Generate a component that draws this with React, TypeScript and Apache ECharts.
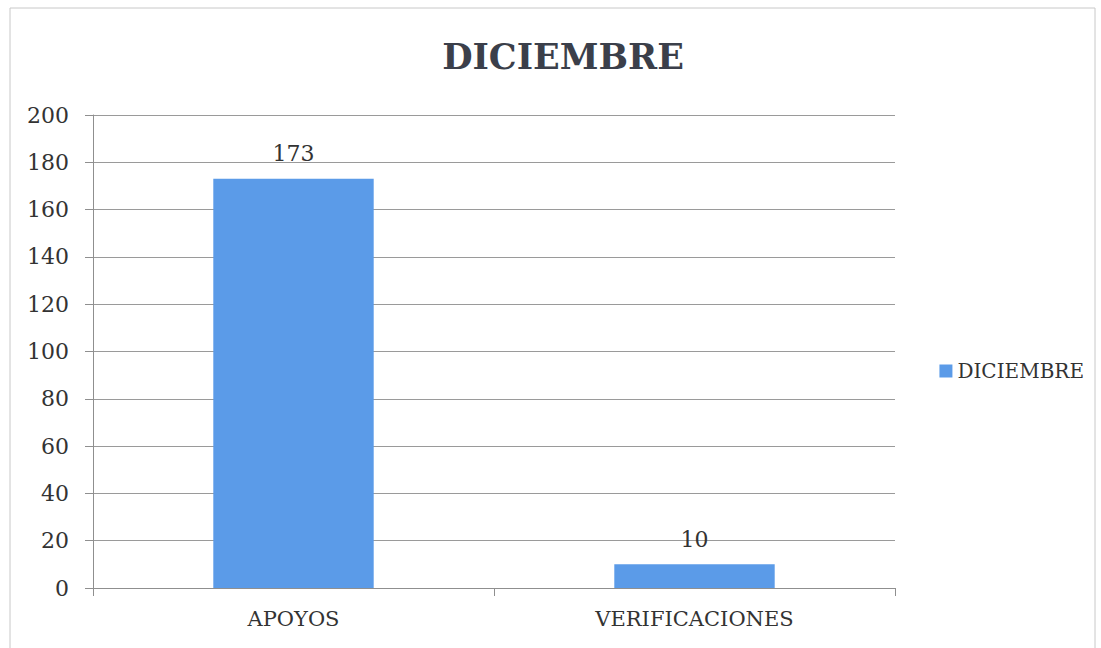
import React, { useEffect, useRef } from "react";
import * as echarts from "echarts";

const categories = ["APOYOS", "VERIFICACIONES"];
const values = [173, 10];
const seriesName = "DICIEMBRE";
const titleText = "DICIEMBRE";

export default function App() {
  const ref = useRef<HTMLDivElement>(null);
  useEffect(() => {
    if (!ref.current) return;
    const chart = echarts.init(ref.current, null, { renderer: "svg" });
    const font = "'DejaVu Serif', 'Liberation Serif', serif";
    chart.setOption({
      animation: false,
      backgroundColor: "#ffffff",
      title: {
        text: titleText,
        left: 558,
        textAlign: "center",
        top: 34,
        textStyle: { fontFamily: font, fontSize: 35, fontWeight: "bold", color: "#3b3f4a" },
      },
      legend: {
        data: [seriesName],
        right: 12,
        top: 356,
        orient: "vertical",
        icon: "rect",
        itemWidth: 13,
        itemHeight: 13,
        itemGap: 6,
        textStyle: { fontFamily: font, fontSize: 20, color: "#333" },
      },
      grid: { left: 93, right: 206, top: 115, bottom: 60, containLabel: false },
      xAxis: {
        type: "category",
        data: categories,
        axisLine: { lineStyle: { color: "#8f8f8f", width: 1 } },
        axisTick: { show: true, length: 8, lineStyle: { color: "#8f8f8f" } },
        axisLabel: { fontFamily: font, fontSize: 21, color: "#333", margin: 20 },
      },
      yAxis: {
        type: "value",
        min: 0,
        max: 200,
        interval: 20,
        axisLine: { show: true, lineStyle: { color: "#8f8f8f" } },
        axisTick: { show: true, length: 8, lineStyle: { color: "#8f8f8f" } },
        splitLine: { lineStyle: { color: "#9a9a9a", width: 1 } },
        axisLabel: { fontFamily: font, fontSize: 22, color: "#333", margin: 24 },
      },
      series: [
        {
          name: seriesName,
          type: "bar",
          data: values,
          barWidth: "40%",
          itemStyle: { color: "#5b9be8" },
          label: {
            show: true,
            position: "top",
            distance: 14,
            fontFamily: font,
            fontSize: 22,
            color: "#333",
          },
        },
      ],
      graphic: [
        {
          type: "rect",
          shape: { x: 10, y: 8, width: 1085, height: 645 },
          style: { fill: "none", stroke: "#c8c8c8", lineWidth: 1 },
        },
      ],
    });
    return () => chart.dispose();
  }, []);
  return <div ref={ref} style={{ width: 1101, height: 648, position: "absolute", left: 0, top: 0 }} />;
}
